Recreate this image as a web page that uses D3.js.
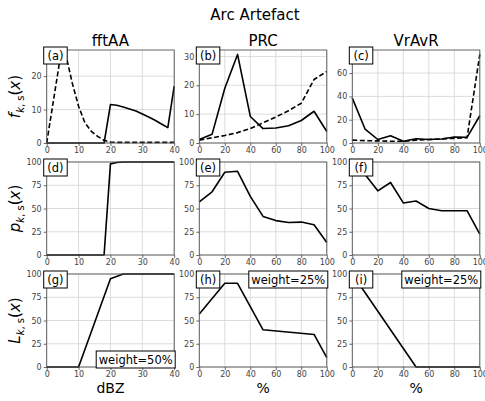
<!DOCTYPE html>
<html>
<head>
<meta charset="utf-8">
<script src="https://cdn.jsdelivr.net/npm/d3@7"></script>
<style>
  body { margin: 0; background: #fff; }
  svg { display: block; font-family: "DejaVu Sans", sans-serif; }
</style>
</head>
<body>
<svg id="chart" width="485" height="401"></svg>
<script>
/*
** Data
*/
var dbzX = [0, 2, 4, 6, 8, 10, 12, 14, 16, 18, 20, 22, 24, 26, 28, 30, 32, 34, 36, 38, 40];
var pctX = [0, 10, 20, 30, 40, 50, 60, 70, 80, 90, 100];

var fftaaSolid  = [0, 0, 0, 0, 0, 0, 0, 0, 0, 0, 11.5, 11.3, 10.8, 10.2, 9.6, 8.7, 7.8, 6.8, 5.7, 4.6, 17];
var fftaaDashed = [0, 12, 24, 26.5, 18, 11, 6, 3.5, 2, 0.8, 0.3, 0.2, 0.2, 0.2, 0.2, 0.2, 0.2, 0.2, 0.2, 0.2, 0.2];
var prcSolid    = [1.2, 3, 19, 30.7, 9.2, 5, 5.2, 6, 7.8, 11, 4];
var prcDashed   = [1, 1.8, 2.6, 3.6, 5, 7, 9, 11.2, 13.8, 22, 24.8];
var vravrSolid  = [38.5, 12, 3, 6.3, 1.5, 3.7, 3, 3.4, 5.1, 4.9, 23.4];
var vravrDashed = [2.5, 2, 1.8, 1.5, 1.5, 2.5, 3, 3.5, 4, 4.5, 76];

var fftaaP = [0, 0, 0, 0, 0, 0, 0, 0, 0, 0, 98, 99.5, 100, 100, 100, 100, 100, 100, 100, 100, 100];
var prcP   = [57, 68, 89, 90, 63, 41.5, 37, 35, 35.4, 32.5, 13.4];
var vravrP = [100, 86.6, 69, 78, 56, 58, 50, 47.6, 47.6, 47.6, 22.4];

var fftaaLX = [0, 10, 20, 24, 40];
var fftaaL  = [0, 0, 95, 100, 100];
var prcLX   = [0, 20, 30, 50, 90, 100];
var prcL    = [57, 90, 90, 40, 35, 10];
var vravrLX = [0, 50, 100];
var vravrL  = [100, 0, 0];

var columnTitles = ["fftAA", "PRC", "VrAvR"];
var xLabels = ["dBZ", "%", "%"];
var panelTags = ["(a)", "(b)", "(c)", "(d)", "(e)", "(f)", "(g)", "(h)", "(i)"];
var weightLabels = ["weight=50%", "weight=25%", "weight=25%"];
var dbzTicks = [0, 10, 20, 30, 40];
var pctTicks = [0, 20, 40, 60, 80, 100];
var probTicks = [0, 25, 50, 75, 100];
var fTicks = [[0, 10, 20], [0, 10, 20, 30], [0, 20, 40, 60]];
var rowLabels = ["f", "p", "L"];

/*
** Layout
*/
var colLeft = [46.7, 199.3, 352.3]
  , colWidth = 127.5
  , rowTop = [50, 162, 274]
  , rowHeight = 93
  , svg = d3.select("#chart")
;

function zip(xs, ys) {
    return xs.map(function(x, i) { return [x, ys[i]]; });
}

var panels = [
    { tag: 0, xdom: [0, 40],  xticks: dbzTicks, yticks: fTicks[0], lines: [zip(dbzX, fftaaSolid), zip(dbzX, fftaaDashed)] },
    { tag: 1, xdom: [0, 100], xticks: pctTicks, yticks: fTicks[1], lines: [zip(pctX, prcSolid), zip(pctX, prcDashed)] },
    { tag: 2, xdom: [0, 100], xticks: pctTicks, yticks: fTicks[2], lines: [zip(pctX, vravrSolid), zip(pctX, vravrDashed)] },
    { tag: 3, xdom: [0, 40],  xticks: dbzTicks, yticks: probTicks, ymax: 100, lines: [zip(dbzX, fftaaP)] },
    { tag: 4, xdom: [0, 100], xticks: pctTicks, yticks: probTicks, ymax: 100, lines: [zip(pctX, prcP)] },
    { tag: 5, xdom: [0, 100], xticks: pctTicks, yticks: probTicks, ymax: 100, lines: [zip(pctX, vravrP)] },
    { tag: 6, xdom: [0, 40],  xticks: dbzTicks, yticks: probTicks, ymax: 100, lines: [zip(fftaaLX, fftaaL)], weight: "br" },
    { tag: 7, xdom: [0, 100], xticks: pctTicks, yticks: probTicks, ymax: 100, lines: [zip(prcLX, prcL)], weight: "tr" },
    { tag: 8, xdom: [0, 100], xticks: pctTicks, yticks: probTicks, ymax: 100, lines: [zip(vravrLX, vravrL)], weight: "tr" }
];

function textBox(g, label, x, y, anchor, w) {
    var h = 17;
    var bx = anchor === "left" ? x : x - w;
    g.append("rect")
        .attr("x", bx).attr("y", y)
        .attr("width", w).attr("height", h)
        .attr("fill", "#fff")
        .attr("stroke", "#000")
        .attr("stroke-width", 1)
    ;
    g.append("text")
        .attr("x", bx + w / 2).attr("y", y + h / 2 + 4)
        .attr("text-anchor", "middle")
        .attr("font-size", 11.5)
        .attr("fill", "#000")
        .text(label)
    ;
}

panels.forEach(function(p) {
    var col = p.tag % 3
      , row = Math.floor(p.tag / 3)
      , left = colLeft[col]
      , top = rowTop[row]
      , ymax = p.ymax || 1.05 * d3.max(p.lines, function(l) { return d3.max(l, function(d) { return d[1]; }); })
    ;
    var x = d3.scaleLinear().domain(p.xdom).range([0, colWidth]);
    var y = d3.scaleLinear().domain([0, ymax]).range([rowHeight, 0]);

    var g = svg.append("g").attr("transform", "translate(" + left + "," + top + ")");

    // grid
    g.append("g").selectAll("line").data(p.xticks).enter().append("line")
        .attr("x1", x).attr("x2", x)
        .attr("y1", 0).attr("y2", rowHeight)
        .attr("stroke", "#d3d3d3").attr("stroke-width", 0.8)
    ;
    g.append("g").selectAll("line").data(p.yticks).enter().append("line")
        .attr("y1", y).attr("y2", y)
        .attr("x1", 0).attr("x2", colWidth)
        .attr("stroke", "#d3d3d3").attr("stroke-width", 0.8)
    ;

    // axes
    var xAxis = g.append("g")
        .attr("transform", "translate(0," + rowHeight + ")")
        .call(d3.axisBottom(x).tickValues(p.xticks).tickSize(3).tickPadding(1.5).tickFormat(d3.format("d")));
    var yAxis = g.append("g")
        .call(d3.axisLeft(y).tickValues(p.yticks).tickSize(3).tickPadding(2).tickFormat(d3.format("d")));
    [xAxis, yAxis].forEach(function(a) {
        a.select(".domain").remove();
        a.selectAll("line").attr("stroke", "#444").attr("stroke-width", 0.8);
        a.selectAll("text")
            .attr("font-size", 8)
            .attr("font-family", "DejaVu Sans, sans-serif")
            .attr("fill", "#444");
    });

    // lines
    var line = d3.line().x(function(d) { return x(d[0]); }).y(function(d) { return y(d[1]); });
    p.lines.forEach(function(l, i) {
        g.append("path")
            .datum(l)
            .attr("d", line)
            .attr("fill", "none")
            .attr("stroke", "#000")
            .attr("stroke-width", 1.6)
            .attr("stroke-linejoin", "round")
            .attr("stroke-dasharray", i === 1 ? "5,2.5" : null)
        ;
    });

    // frame
    g.append("rect")
        .attr("width", colWidth).attr("height", rowHeight)
        .attr("fill", "none")
        .attr("stroke", "#555")
        .attr("stroke-width", 0.9)
    ;

    textBox(g, panelTags[p.tag], -3, -3, "left", 23.5);
    if (p.weight === "tr") textBox(g, weightLabels[col], colWidth + 1, -3, "right", 79);
    if (p.weight === "br") textBox(g, weightLabels[col], colWidth + 1, rowHeight - 16, "right", 79);
});

// titles
svg.append("text")
    .attr("x", 255).attr("y", 20)
    .attr("text-anchor", "middle")
    .attr("font-size", 15)
    .text("Arc Artefact")
;
svg.selectAll(".coltitle").data(columnTitles).enter().append("text")
    .attr("class", "coltitle")
    .attr("x", function(d, i) { return colLeft[i] + colWidth / 2; })
    .attr("y", 46)
    .attr("text-anchor", "middle")
    .attr("font-size", 15)
    .text(function(d) { return d; })
;
svg.selectAll(".xlabel").data(xLabels).enter().append("text")
    .attr("class", "xlabel")
    .attr("x", function(d, i) { return colLeft[i] + colWidth / 2; })
    .attr("y", 393)
    .attr("text-anchor", "middle")
    .attr("font-size", 14)
    .text(function(d) { return d; })
;

// row labels, f_{k,s}(x) style
rowLabels.forEach(function(name, i) {
    var t = svg.append("text")
        .attr("transform", "translate(20," + (rowTop[i] + rowHeight / 2) + ") rotate(-90)")
        .attr("text-anchor", "middle")
        .attr("font-size", 15)
    ;
    t.append("tspan").attr("font-style", "italic").text(name);
    t.append("tspan").attr("font-size", 10).attr("dy", 3.5).attr("font-style", "italic").text("k");
    t.append("tspan").attr("font-size", 10).text(", s");
    t.append("tspan").attr("dy", -3.5).text("(");
    t.append("tspan").attr("font-style", "italic").text("x");
    t.append("tspan").text(")");
});
</script>
</body>
</html>
